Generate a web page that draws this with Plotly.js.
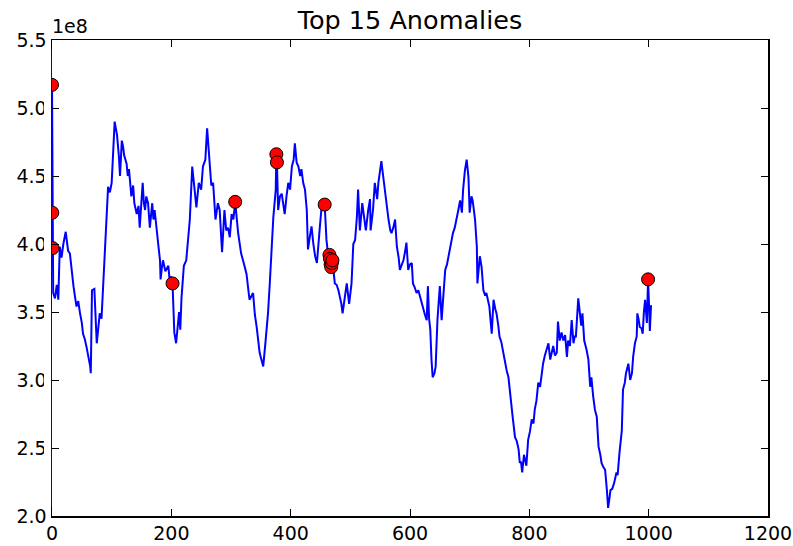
<!DOCTYPE html>
<html>
<head>
<meta charset="utf-8">
<script src="https://cdn.plot.ly/plotly-3.0.1.min.js"></script>
<style>html,body{margin:0;padding:0;background:#fff;}#chart{width:793px;height:546px;}</style>
</head>
<body>
<div id="chart"></div>
<script>
// Series values in units of 1e8
const seriesX = [0,0.5,1,2,5,8,10.6,13,16,19,23,27,30,33,36,41,44,47,50,52,55,58,61,64,65,67,71,73,75,78,80,83,86,89,92,94,97,100,103,105,107,109,112,114,117,119,121,125,127,129,133,136,138,142,145,147,152,154,156,158,161,164,168,170,172,175,178,181,182,184,186,190,195,197,200,202,205,208,211,213,215,217,221,225,231,235,239,242,246,250,253,257,260,264,267,270,274,278,281,285,289,292,295,298,301,304,307,312,317,322,326,331,334,337,340,343,348,354,358,362,365,371,375,376,377,379,382,385,388,390,393,396,399,402,405,407,410,413,416,418,421,424,427,429,432,435,438,441,444,447,449,452,455,457,460,463,465,466,467,468,469,470,474,477,480,483,485,487,491,494,498,502,505,508,511,513,516,520,523,526,530,533,534,538,541,545,547,550,552,555,558,561,564,567,569,572,575,578,581,583,586,589,592,594,597,600,603,605,608,611,614,617,620,622,625,628,630,632,634,636,638,641,643,646,650,653,656,659,662,664,667,670,672,675,678,681,684,687,689,692,695,698,700,703,705,707,709,712,713,717,720,723,726,728,731,733,737,740,743,745,748,750,753,756,759,762,765,768,772,776,779,782,784,786,788,791,793,795,798,801,804,807,809,812,815,818,821,823,826,829,832,835,838,840,843,846,848,851,854,857,860,863,865,868,871,874,876,878,882,885,887,889,892,896,899,902,904,907,910,913,916,919,921,924,927,930,932,934,936,939,942,946,948,951,955,957,960,962,966,969,972,974,977,980,981,983,985,988,990,992,994,997,999,1001,1002,1004];
const seriesY = [5.17,4.23,3.97,3.64,3.60,3.70,3.59,3.98,3.90,4.00,4.09,3.95,3.93,3.80,3.69,3.54,3.58,3.49,3.42,3.34,3.30,3.24,3.18,3.10,3.05,3.66,3.67,3.50,3.27,3.40,3.49,3.45,3.74,3.98,4.22,4.42,4.38,4.45,4.72,4.90,4.85,4.80,4.65,4.50,4.76,4.72,4.65,4.59,4.50,4.55,4.35,4.43,4.30,4.22,4.28,4.12,4.45,4.30,4.25,4.35,4.30,4.12,4.30,4.18,4.25,4.10,4.00,3.88,3.74,3.82,3.88,3.80,3.84,3.74,3.76,3.71,3.35,3.27,3.40,3.50,3.37,3.60,3.84,3.88,4.18,4.57,4.40,4.27,4.45,4.40,4.57,4.62,4.85,4.57,4.43,4.45,4.18,4.30,4.25,3.94,4.25,4.10,4.12,4.05,4.22,4.18,4.31,4.08,3.93,3.85,3.78,3.59,3.62,3.64,3.48,3.39,3.20,3.10,3.29,3.49,3.71,4.20,4.40,4.66,4.60,4.25,4.35,4.37,4.25,4.22,4.35,4.45,4.40,4.57,4.62,4.74,4.60,4.57,4.50,4.55,4.45,4.40,4.25,3.96,4.05,4.13,4.00,3.91,3.86,4.05,4.13,4.28,4.25,4.29,4.03,3.91,3.92,3.89,3.85,3.83,3.86,3.88,3.71,3.70,3.66,3.60,3.56,3.49,3.60,3.71,3.56,3.71,4.00,4.03,4.20,4.40,4.10,4.30,4.20,4.10,4.25,4.33,4.10,4.25,4.45,4.33,4.45,4.54,4.61,4.50,4.39,4.25,4.18,4.10,4.08,4.12,4.18,3.98,3.90,3.81,3.85,3.88,3.95,4.01,3.81,3.85,3.86,3.71,3.68,3.64,3.66,3.61,3.55,3.51,3.48,3.44,3.69,3.45,3.37,3.15,3.02,3.05,3.10,3.44,3.69,3.44,3.65,3.81,3.85,3.90,3.98,4.05,4.08,4.12,4.20,4.25,4.32,4.23,4.40,4.54,4.62,4.49,4.23,4.35,4.32,4.25,4.18,3.98,3.71,3.91,3.83,3.66,3.62,3.64,3.58,3.54,3.34,3.59,3.52,3.49,3.40,3.32,3.28,3.20,3.12,3.07,3.02,2.88,2.73,2.58,2.55,2.49,2.39,2.40,2.32,2.45,2.41,2.37,2.56,2.62,2.71,2.68,2.78,2.85,2.98,2.95,3.05,3.12,3.18,3.22,3.27,3.15,3.22,3.25,3.18,3.20,3.43,3.29,3.35,3.29,3.33,3.17,3.29,3.25,3.44,3.27,3.32,3.32,3.60,3.44,3.40,3.49,3.29,3.22,3.15,2.95,3.02,2.88,2.78,2.73,2.51,2.45,2.39,2.36,2.34,2.19,2.06,2.12,2.19,2.20,2.24,2.32,2.30,2.46,2.63,2.93,2.98,3.05,3.12,3.00,3.05,3.17,3.27,3.32,3.49,3.45,3.39,3.38,3.34,3.50,3.59,3.42,3.74,3.50,3.36,3.55];

// Top 15 anomalies (x index, value in 1e8)
const anomalyX = [0,0.5,1,202,307,376,377,457,465,466,467,468,469,470,999];
const anomalyY = [5.17,4.23,3.97,3.71,4.31,4.66,4.60,4.29,3.92,3.89,3.85,3.83,3.86,3.88,3.74];

const xTicks = [0,200,400,600,800,1000,1200];
const yTicks = [2.0,2.5,3.0,3.5,4.0,4.5,5.0,5.5];

const fam = 'DejaVu Sans, sans-serif';

const traces = [
  {x: seriesX, y: seriesY, type: 'scatter', mode: 'lines',
   line: {color: '#0000ff', width: 2}, hoverinfo: 'skip', showlegend: false},
  {x: anomalyX, y: anomalyY, type: 'scatter', mode: 'markers', cliponaxis: true,
   marker: {color: '#ff0000', size: 13, line: {color: '#000', width: 1}},
   showlegend: false}
];

const axisCommon = {
  showline: true, linecolor: '#000', linewidth: 1.5, mirror: 'allticks',
  ticks: 'inside', ticklen: 7, tickwidth: 1, tickcolor: '#000',
  showgrid: false, zeroline: false,
  tickfont: {family: fam, size: 19, color: '#000'}
};

const layout = {
  width: 793, height: 546,
  margin: {l: 52, r: 25, t: 40, b: 30},
  paper_bgcolor: '#fff', plot_bgcolor: '#fff',
  font: {family: fam, color: '#000'},
  title: {text: 'Top 15 Anomalies', font: {family: fam, size: 25.5, color: '#000'},
          x: 0.5, xref: 'paper', xanchor: 'center', y: 1 - 20/546, yref: 'container', yanchor: 'middle'},
  xaxis: Object.assign({}, axisCommon, {range: [0, 1200], tickvals: xTicks, ticktext: xTicks.map(String)}),
  yaxis: Object.assign({}, axisCommon, {range: [2.0, 5.5], tickvals: yTicks, ticktext: yTicks.map(v => v.toFixed(1))}),
  shapes: [{type: 'rect', layer: 'above', xref: 'paper', xsizemode: 'pixel', xanchor: 0, x0: -8, x1: -0.9,
            yref: 'paper', y0: 0.02, y1: 0.98, fillcolor: '#fff', line: {width: 0}}],
  annotations: [{text: '1e8', xref: 'paper', yref: 'paper', x: 0, y: 1, xanchor: 'left', yanchor: 'bottom',
                 showarrow: false, font: {family: fam, size: 19, color: '#000'}, xshift: -2, yshift: 1}]
};

Plotly.newPlot('chart', traces, layout, {staticPlot: true, displayModeBar: false});
</script>
</body>
</html>
